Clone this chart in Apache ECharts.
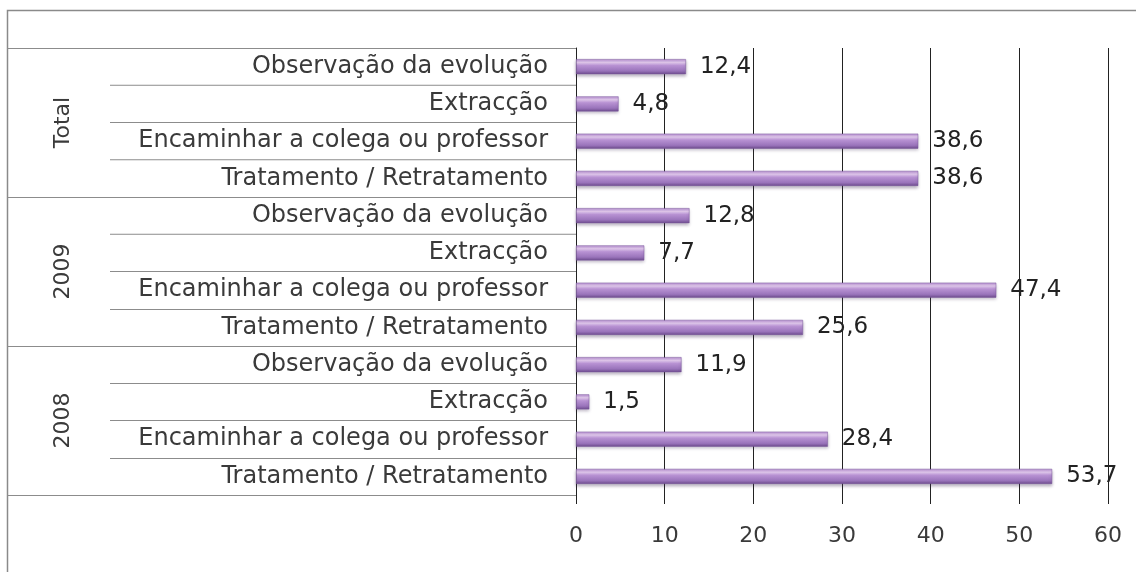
<!DOCTYPE html>
<html>
<head>
<meta charset="utf-8">
<script src="https://cdn.jsdelivr.net/npm/echarts@6/dist/echarts.min.js"></script>
<style>
  html, body { margin: 0; padding: 0; background: #fff; }
  #chart { width: 1136px; height: 572px; }
</style>
</head>
<body>
<div id="chart"></div>
<script>
// Rows listed bottom-to-top, four options per year group
const categories = [
  'Tratamento / Retratamento', 'Encaminhar a colega ou professor', 'Extracção', 'Observação da evolução',
  'Tratamento / Retratamento', 'Encaminhar a colega ou professor', 'Extracção', 'Observação da evolução',
  'Tratamento / Retratamento', 'Encaminhar a colega ou professor', 'Extracção', 'Observação da evolução'
];
const groups = ['2008', '2009', 'Total'];
const values2008 = [53.7, 28.4, 1.5, 11.9];
const values2009 = [25.6, 47.4, 7.7, 12.8];
const valuesTotal = [38.6, 38.6, 4.8, 12.4];
const xTicks = [0, 10, 20, 30, 40, 50, 60];

const values = values2008.concat(values2009, valuesTotal);

const font = '"DejaVu Sans", "Open Sans", sans-serif';
const textColor = '#3a3a3a';

// Cylinder-like shading across the bar's thickness
const barFill = {
  type: 'linear', x: 0, y: 0, x2: 0, y2: 1,
  colorStops: [
    { offset: 0, color: '#b58dd0' },
    { offset: 0.22, color: '#e3cbee' },
    { offset: 0.42, color: '#b892d3' },
    { offset: 0.78, color: '#9a74bb' },
    { offset: 1, color: '#6e4c8e' }
  ]
};

const chart = echarts.init(document.getElementById('chart'));
chart.setOption({
  backgroundColor: '#fff',
  animation: false,
  graphic: [{
    type: 'rect',
    left: 5, top: 8,
    shape: { width: 1200, height: 700 },
    style: { fill: 'none', stroke: '#8a8a8a', lineWidth: 1.5 },
    silent: true,
    z: -1
  }],
  grid: { left: 576, right: 28, top: 48, bottom: 77, containLabel: false },
  xAxis: {
    type: 'value',
    min: xTicks[0],
    max: xTicks[xTicks.length - 1],
    interval: 10,
    axisLine: { show: false },
    axisTick: { show: true, length: 9, lineStyle: { color: '#222' } },
    splitLine: { show: true, lineStyle: { color: '#222', width: 1 } },
    axisLabel: { margin: 30, fontSize: 22, color: textColor, fontFamily: font }
  },
  yAxis: [{
    type: 'category',
    data: categories,
    axisLine: { show: true, lineStyle: { color: '#222' } },
    axisTick: { show: true, length: 466, lineStyle: { color: '#8c8c8c' } },
    axisLabel: { margin: 28, fontSize: 24, color: textColor, fontFamily: font }
  }, {
    type: 'category',
    data: groups,
    position: 'left',
    axisLine: { show: false },
    axisTick: { show: true, length: 569, lineStyle: { color: '#8c8c8c' } },
    axisLabel: { margin: 502, rotate: 90, fontSize: 22, color: textColor, fontFamily: font }
  }],
  series: [{
    type: 'bar',
    yAxisIndex: 0,
    data: values,
    barWidth: 15,
    itemStyle: {
      color: barFill,
      borderColor: '#7a589c',
      borderWidth: 0.5,
      shadowColor: 'rgba(60,40,80,0.35)',
      shadowBlur: 3,
      shadowOffsetY: 2
    },
    label: {
      show: true,
      position: 'right',
      distance: 14,
      fontSize: 23,
      color: '#222',
      fontFamily: font,
      formatter: p => String(p.value).replace('.', ',')
    }
  }]
});
</script>
</body>
</html>
